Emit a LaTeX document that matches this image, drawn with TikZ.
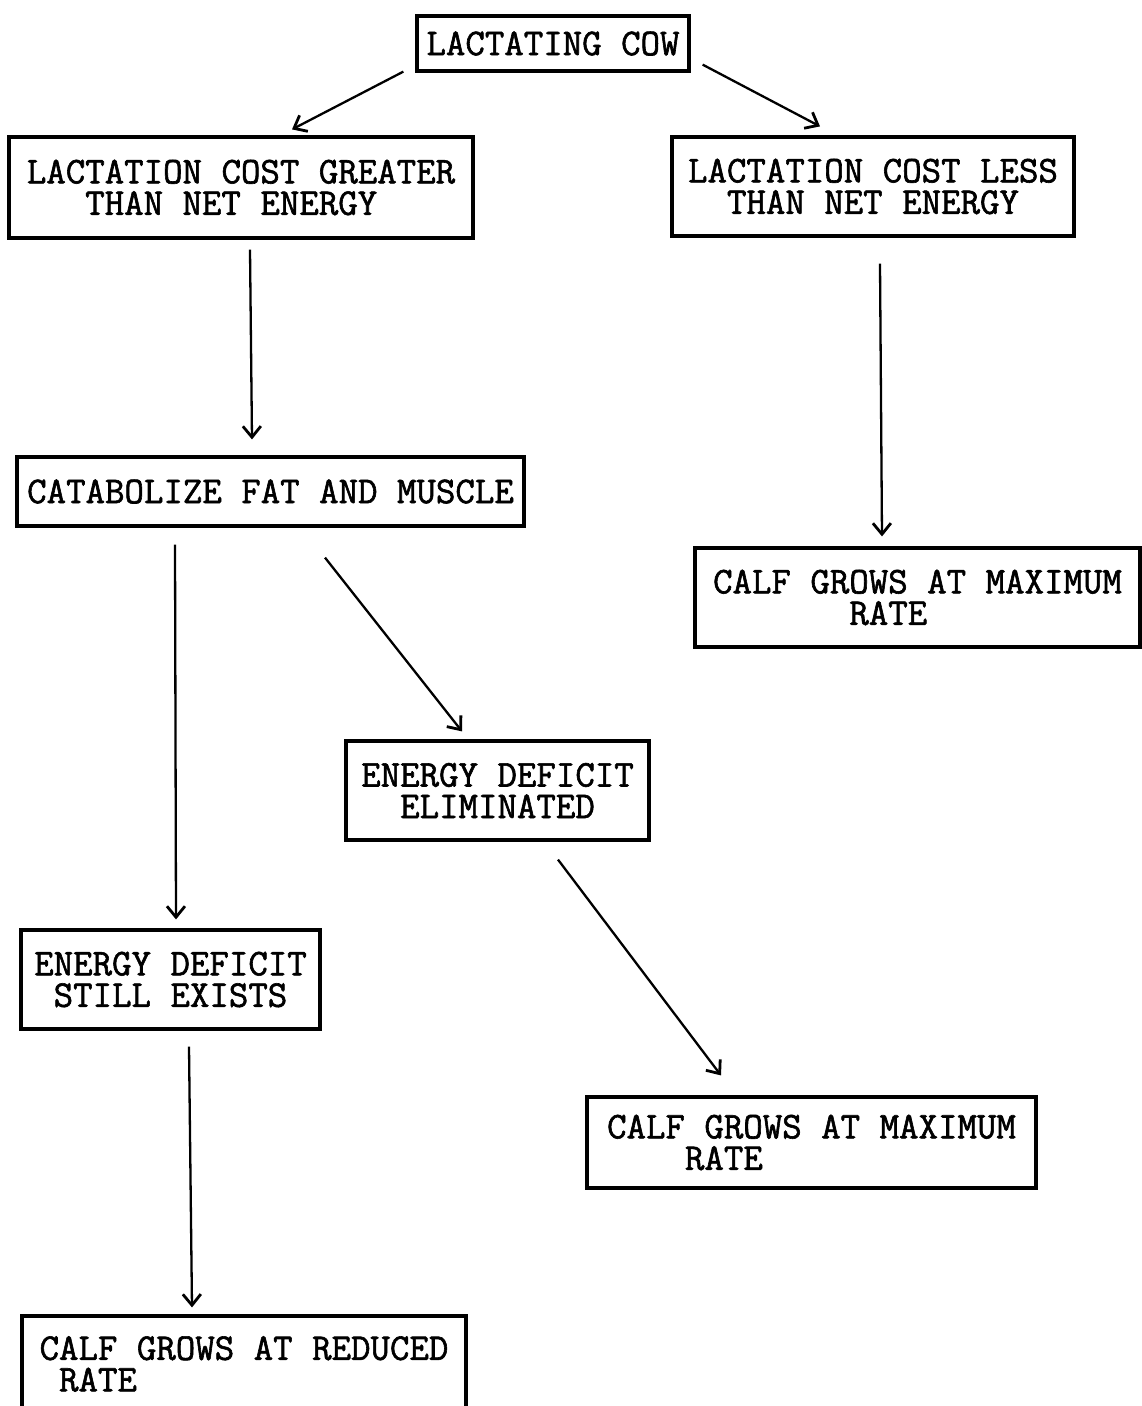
\documentclass[tikz,border=0pt]{standalone}
\usepackage{fontspec}
\newfontfamily\tyfont[AutoFakeBold=1.6]{Latin Modern Mono}
\usetikzlibrary{arrows.meta,calc}
\begin{document}
\begin{tikzpicture}[x=1pt,y=-1pt,
  box/.style={draw, line width=3.2pt, rectangle, inner sep=0pt, align=left,
    font=\tyfont\bfseries\fontsize{37.8}{31.5}\selectfont},
  arr/.style={line width=2.3pt, -{Straight Barb[length=11pt,width=18pt,line width=2.8pt]}}]
\useasboundingbox (0,0) rectangle (1142,1406);
\node[box, minimum width=272pt, minimum height=55pt] (cow) at (553,43.5) {LACTATING COW};
\node[box, minimum width=464pt, minimum height=101pt] (greater) at (241,187.5)
  {LACTATION COST GREATER\\\phantom{XXX}THAN NET ENERGY};
\node[box, minimum width=402pt, minimum height=99pt] (less) at (873,186.5)
  {LACTATION COST LESS\\\phantom{XX}THAN NET ENERGY};
\node[box, minimum width=507pt, minimum height=69pt] (cat) at (270.5,491.5)
  {CATABOLIZE FAT AND MUSCLE};
\node[box, minimum width=445pt, minimum height=99pt] (maxR) at (917.5,597.5)
  {CALF GROWS AT MAXIMUM\\\phantom{XXXXXXX}RATE};
\node[box, minimum width=303pt, minimum height=99pt] (elim) at (497.5,790.5)
  {ENERGY DEFICIT\\\phantom{XX}ELIMINATED};
\node[box, minimum width=299pt, minimum height=99pt] (still) at (170.5,979.5)
  {ENERGY DEFICIT\\\phantom{X}STILL EXISTS};
\node[box, minimum width=449pt, minimum height=91pt] (maxM) at (811.5,1142.5)
  {CALF GROWS AT MAXIMUM\\\phantom{XXXX}RATE\phantom{XXXXXXXXXXXXX}};
\node[box, minimum width=444pt, minimum height=96pt] (reduced) at (244,1364)
  {CALF GROWS AT REDUCED\\\phantom{X}RATE\phantom{XXXXXXXXXXXXXXXX}};
\draw[arr] ($(cow.south west)+(-12,-1)$) -- ($(greater.north)+(51,-6)$);
\draw[arr] ($(cow.south east)+(12,-8)$) -- ($(less.north)+(-53,-9)$);
\draw[arr] ($(greater.south)+(9,10)$) -- ($(cat.north)+(-18.5,-16)$);
\draw[arr] ($(less.south)+(7,26)$) -- ($(maxR.north)+(-35.5,-10)$);
\draw[arr] ($(cat.south)+(-95.5,17)$) -- ($(still.north)+(5.5,-9)$);
\draw[arr] ($(cat.south)+(54.5,30)$) -- ($(elim.north)+(-35.5,-8)$);
\draw[arr] ($(elim.south)+(60.5,18)$) -- ($(maxM.north)+(-90.5,-20)$);
\draw[arr] ($(still.south)+(18.5,16)$) -- ($(reduced.north)+(-52,-7)$);
\end{tikzpicture}
\end{document}
